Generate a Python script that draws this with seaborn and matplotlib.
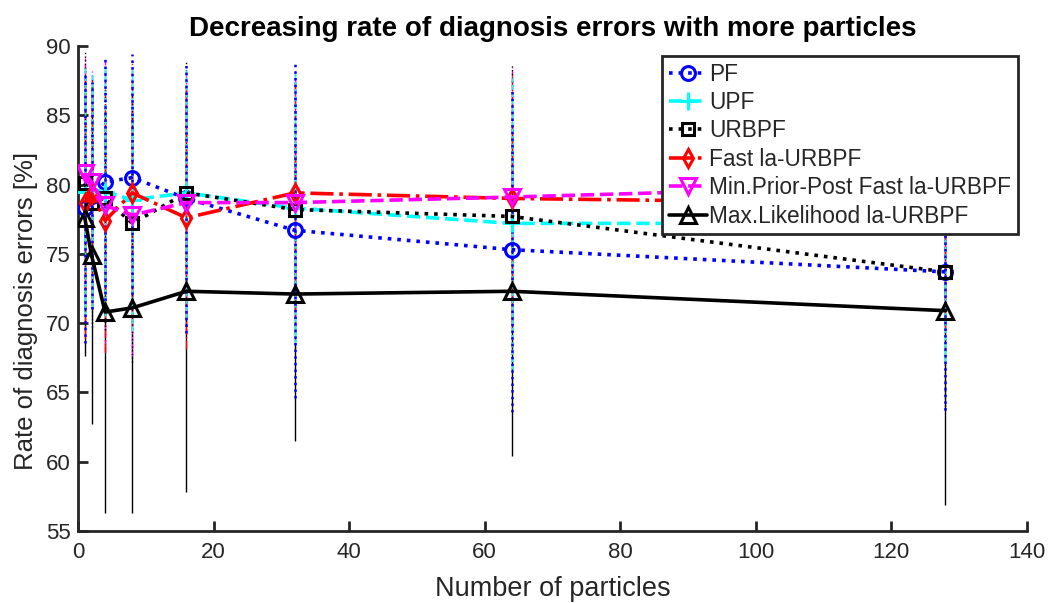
import numpy as np
import pandas as pd
import seaborn as sns
import matplotlib
matplotlib.use("Agg")
import matplotlib.pyplot as plt

# ---- data ----
particles = [1, 2, 4, 8, 16, 32, 64, 128]
series_names = ["PF", "UPF", "URBPF", "Fast la-URBPF",
                "Min.Prior-Post Fast la-URBPF", "Max.Likelihood la-URBPF"]
pf_mean = [78.3, 79.2, 80.2, 80.5, 79.0, 76.7, 75.3, 73.7]
pf_std = [9.7, 8.2, 9.0, 8.9, 9.7, 12.1, 11.7, 10.0]
upf_mean = [79.5, 79.6, 79.5, 78.9, 79.4, 78.3, 77.2, 77.2]
upf_std = [9.0, 8.5, 9.0, 9.5, 9.0, 9.8, 10.5, 10.0]
urbpf_mean = [80.1, 78.7, 79.0, 77.2, 79.4, 78.2, 77.7, 73.7]
urbpf_std = [9.5, 9.0, 9.5, 10.0, 9.5, 10.0, 11.0, 10.0]
fast_mean = [78.7, 79.4, 77.4, 79.4, 77.6, 79.4, 79.0, 78.6]
fast_std = [9.8, 8.4, 9.5, 9.6, 9.5, 8.5, 9.0, 9.0]
minpp_mean = [80.8, 80.2, 78.5, 77.8, 78.7, 78.7, 79.1, 80.0]
minpp_std = [8.3, 8.0, 10.6, 10.2, 9.5, 9.0, 9.3, 9.0]
maxl_mean = [77.6, 74.9, 70.8, 71.1, 72.3, 72.1, 72.3, 70.9]
maxl_std = [10.0, 12.2, 14.5, 14.8, 14.5, 10.6, 11.9, 14.0]

means = [pf_mean, upf_mean, urbpf_mean, fast_mean, minpp_mean, maxl_mean]
stds = [pf_std, upf_std, urbpf_std, fast_std, minpp_std, maxl_std]
colors = ["#0000ff", "#00ffff", "#000000", "#ff0000", "#ff00ff", "#000000"]
styles = [":", "--", ":", "-.", "--", "-"]
markers = ["o", "+", "s", "d", "v", "^"]
msizes = [10, 13, 8, 9, 11, 12]

sns.set_style("white")
plt.rcParams["font.family"] = ["Liberation Sans", "DejaVu Sans"]

fig = plt.figure(figsize=(10.51, 6.03), dpi=100)
ax = fig.add_axes([0.0742, 0.1194, 0.9028, 0.8043])

# error bars (PF on top)
order = [5, 4, 3, 2, 1, 0]
for z, i in enumerate(order):
    eb = ax.errorbar(particles, means[i], yerr=stds[i], fmt="none",
                     ecolor=colors[i], elinewidth=1.8 if i == 0 else 1.0,
                     capsize=0, zorder=2 + z * 0.1)
    eb[2][0].set_linestyle(styles[i])

for i, name in enumerate(series_names):
    df = pd.DataFrame({"x": particles, "y": means[i]})
    sns.lineplot(data=df, x="x", y="y", ax=ax, color=colors[i],
                 linestyle=styles[i], linewidth=2.6, marker=markers[i],
                 markersize=msizes[i], markerfacecolor="none",
                 markeredgecolor=colors[i], markeredgewidth=2.2,
                 label=name, sort=False, errorbar=None, zorder=3 + i * 0.1)

ax.set_xlim(0, 140)
ax.set_ylim(55, 90)
ax.set_xticks(np.arange(0, 141, 20))
ax.set_yticks(np.arange(55, 91, 5))
ax.tick_params(axis="both", direction="in", length=7, width=2,
               colors="#262626", labelsize=16, left=True, bottom=True,
               labelcolor="#262626")
ax.tick_params(axis="x", pad=8)
ax.tick_params(axis="y", pad=5)
for s in ["top", "right"]:
    ax.spines[s].set_visible(False)
for s in ["left", "bottom"]:
    ax.spines[s].set_color("#262626")
    ax.spines[s].set_linewidth(2)

ax.set_xlabel("Number of particles", fontsize=19.5, color="#262626")
ax.set_ylabel("Rate of diagnosis errors [%]", fontsize=18.5, color="#262626")
ax.xaxis.set_label_coords(0.5, -0.092)
ax.yaxis.set_label_coords(-0.042, 0.454)
ax.set_title("Decreasing rate of diagnosis errors with more particles",
             fontsize=20, fontweight="bold", pad=7, color="black")

leg = ax.legend(loc="upper right", bbox_to_anchor=(0.9905, 0.979),
                borderaxespad=0, fontsize=16.3, frameon=True, fancybox=False,
                handlelength=1.7, handletextpad=0.1, labelspacing=0.24,
                borderpad=0.28, edgecolor="#262626", framealpha=1)
leg.get_frame().set_linewidth(2)
leg.set_zorder(10)

fig.savefig("out.png", dpi=100, facecolor="white")
